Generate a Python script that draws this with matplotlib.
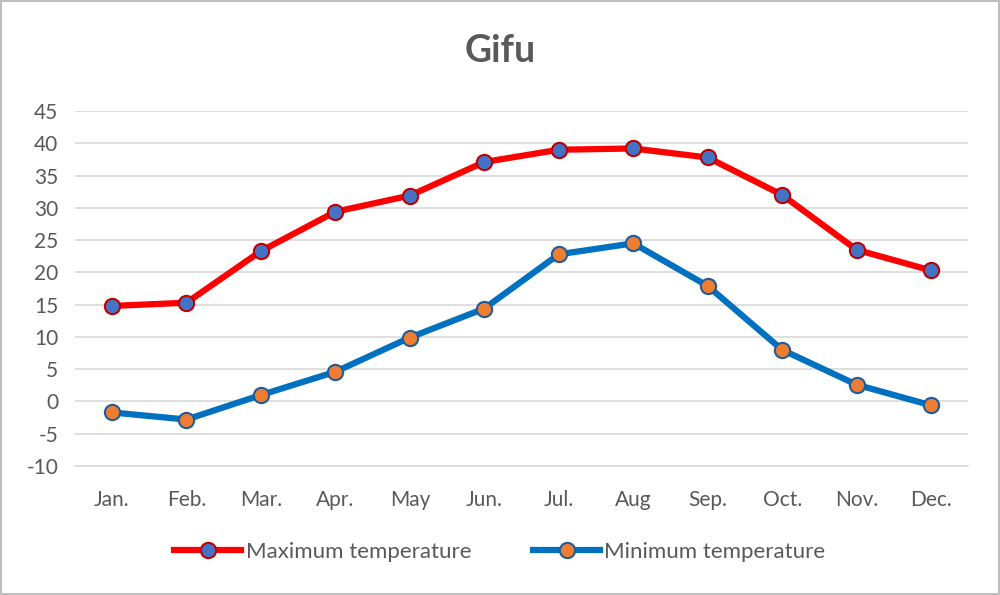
import numpy as np
import matplotlib.pyplot as plt

plt.rcParams['font.family'] = ['Lato', 'DejaVu Sans']
plt.rcParams['axes.unicode_minus'] = False

months = ["Jan.", "Feb.", "Mar.", "Apr.", "May", "Jun.", "Jul.", "Aug", "Sep.", "Oct.", "Nov.", "Dec."]
max_temp = [14.8, 15.3, 23.3, 29.4, 31.9, 37.1, 39.0, 39.2, 37.8, 32.0, 23.5, 20.3]
min_temp = [-1.7, -2.8, 1.0, 4.6, 9.9, 14.4, 22.8, 24.5, 17.9, 8.0, 2.6, -0.6]
yticks = [-10, -5, 0, 5, 10, 15, 20, 25, 30, 35, 40, 45]

txt = "#595959"

fig = plt.figure(figsize=(10, 5.95), dpi=100)
ax = fig.add_axes([0.0748, 0.2168, 0.8935, 0.5966])

x = np.arange(len(months))
ax.plot(x, max_temp, color="#FF0000", lw=4.5, marker="o", ms=11,
        mfc="#4472C4", mec="#C00000", mew=1.5, label="Maximum temperature", zorder=3)
ax.plot(x, min_temp, color="#0070C0", lw=4.5, marker="o", ms=11,
        mfc="#ED7D31", mec="#1F5C99", mew=1.5, label="Minimum temperature", zorder=3)

ax.set_xlim(-0.5, len(months) - 0.5)
ax.set_ylim(-10, 45)
ax.set_yticks(yticks)
ax.set_xticks(x)
ax.set_xticklabels(months)
ax.grid(axis="y", color="#D9D9D9", lw=1.2)
ax.set_axisbelow(True)
for s in ["top", "right", "left"]:
    ax.spines[s].set_visible(False)
ax.spines["bottom"].set_color("#D9D9D9")
ax.spines["bottom"].set_linewidth(1.2)
ax.tick_params(length=0, labelsize=15, labelcolor=txt)
ax.tick_params(axis="x", pad=17)
ax.tick_params(axis="y", pad=12)

fig.text(0.5, 0.915, "Gifu", ha="center", va="center", fontsize=27,
         fontweight="bold", color=txt)

leg = fig.legend(loc="center", bbox_to_anchor=(0.5, 0.072), ncol=2, frameon=False,
                 fontsize=16, handlelength=3.0, columnspacing=2.8, handletextpad=0.2)
for t in leg.get_texts():
    t.set_color(txt)

# grey frame round the chart
fig.patches.append(plt.Rectangle((0.001, 0.001), 0.998, 0.998, transform=fig.transFigure,
                                 fill=False, ec="#BFBFBF", lw=1.5))

fig.savefig("out.png", dpi=100)
